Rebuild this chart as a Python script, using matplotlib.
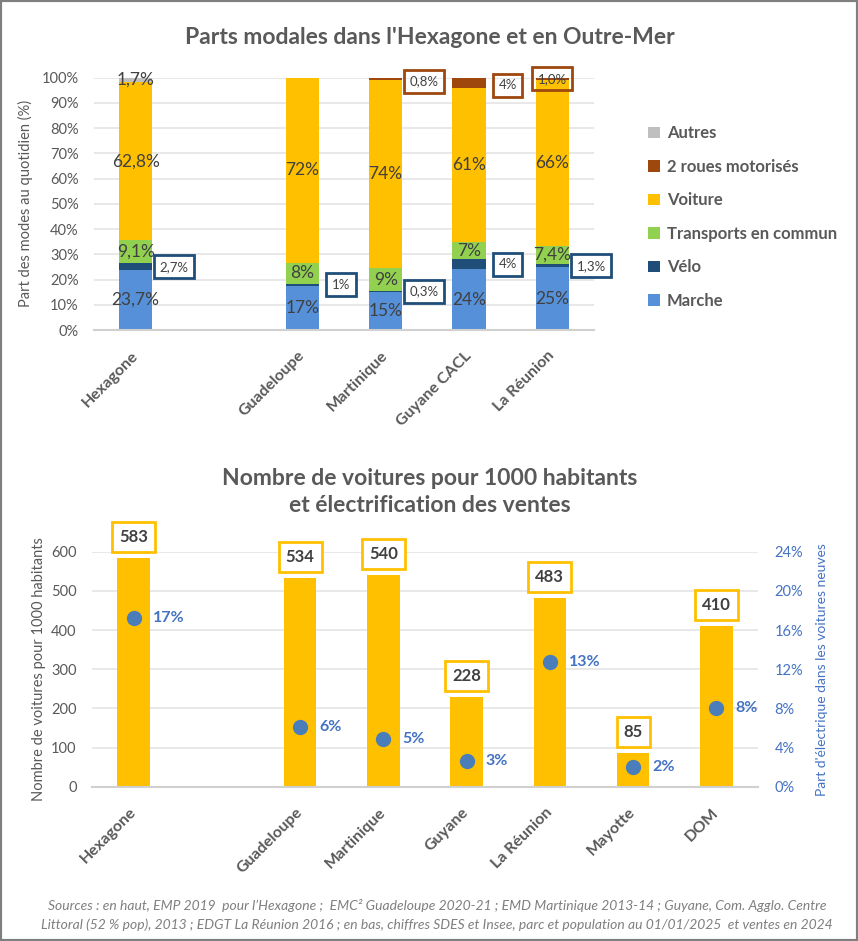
import numpy as np
import matplotlib
matplotlib.use("Agg")
import matplotlib.pyplot as plt
from matplotlib.patches import Rectangle

plt.rcParams['font.family'] = ['Lato', 'DejaVu Sans']

# ------------------------------
# Données : parts modales (haut)
# ------------------------------
territoires = ['Hexagone', '', 'Guadeloupe', 'Martinique', 'Guyane CACL', 'La Réunion']
marche = [23.7, 17, 15, 24, 25]
velo = [2.7, 1, 0.3, 4, 1.3]
transports = [9.1, 8, 9, 7, 7.4]
voiture = [62.8, 72, 74, 61, 66]
deux_roues = [0, 0, 0.8, 4, 1.0]
autres = [1.7, 0, 0, 0, 0]

marche_lbl = ['23,7%', '17%', '15%', '24%', '25%']
velo_lbl = ['2,7%', '1%', '0,3%', '4%', '1,3%']
transports_lbl = ['9,1%', '8%', '9%', '7%', '7,4%']
voiture_lbl = ['62,8%', '72%', '74%', '61%', '66%']
deux_roues_lbl = ['', '', '0,8%', '4%', '1,0%']
autres_lbl = ['1,7%', '', '', '', '']

# ------------------------------
# Données : voitures / 1000 hab. (bas)
# ------------------------------
territoires2 = ['Hexagone', '', 'Guadeloupe', 'Martinique', 'Guyane', 'La Réunion', 'Mayotte', 'DOM']
voitures_1000 = [583, 534, 540, 228, 483, 85, 410]
part_electrique = [17.2, 6.1, 4.9, 2.6, 12.7, 2.0, 8.0]

GRIS_TXT = '#595959'
GRIS_FONCE = '#404040'
GRILLE = '#E4E4E4'
BLEU_AXE = '#4472C4'

fig = plt.figure(figsize=(8.58, 9.41), dpi=100)
W, H = 858, 941


def fig_box(x0, y_top, x1, y_bottom):
    return [x0 / W, 1 - y_bottom / H, (x1 - x0) / W, (y_bottom - y_top) / H]


# ------------------------------
# Graphique du haut (100 % empilé)
# ------------------------------
ax1 = fig.add_axes(fig_box(94, 77.7, 594, 330))
pos = [i for i, t in enumerate(territoires) if t]

series = [
    ('Marche', marche, marche_lbl, '#5590D8'),
    ('Vélo', velo, velo_lbl, '#1F4E79'),
    ('Transports en commun', transports, transports_lbl, '#92D050'),
    ('Voiture', voiture, voiture_lbl, '#FFC000'),
    ('2 roues motorisés', deux_roues, deux_roues_lbl, '#9E480E'),
    ('Autres', autres, autres_lbl, '#BFBFBF'),
]
totaux = np.sum([s[1] for s in series], axis=0)

bottom = np.zeros(len(pos))
handles = []
for nom, vals, lbls, col in series:
    h = np.array(vals) / totaux * 100
    b = ax1.bar(pos, h, 0.4, bottom=bottom, color=col, label=nom, zorder=2)
    handles.append(b)
    for i, x in enumerate(pos):
        if not lbls[i]:
            continue
        mid = bottom[i] + h[i] / 2
        if nom == 'Vélo':
            ax1.annotate(lbls[i], xy=(x + 0.2, mid), xytext=(22, 0), textcoords='offset pixels',
                         ha='center', va='center', fontsize=9.5, color=GRIS_FONCE,
                         bbox=dict(boxstyle='square,pad=0.42', fc='white', ec='#1F4E79', lw=2),
                         annotation_clip=False, zorder=5)
        elif nom == '2 roues motorisés':
            if territoires[x] == 'La Réunion':
                xy, dx = (x, mid), 0
            else:
                xy, dx = (x + 0.2, mid - 1), 22
            ax1.annotate(lbls[i], xy=xy, xytext=(dx, 0), textcoords='offset pixels',
                         ha='center', va='center', fontsize=9.5, color=GRIS_FONCE,
                         bbox=dict(boxstyle='square,pad=0.42', fc='none', ec='#9E480E', lw=2),
                         annotation_clip=False, zorder=5)
        else:
            ax1.text(x, mid, lbls[i], ha='center', va='center', fontsize=12.5,
                     color=GRIS_FONCE, zorder=4)
    bottom += h

ax1.set_xlim(-0.5, len(territoires) - 0.5)
ax1.set_ylim(0, 100)
ax1.set_yticks(range(0, 101, 10))
ax1.set_yticklabels([f"{v}%" for v in range(0, 101, 10)])
ax1.set_xticks(pos)
ax1.set_xticklabels([territoires[p] for p in pos], rotation=45, ha='right', va='center',
                    rotation_mode='anchor', fontweight='bold', fontsize=11.5, color=GRIS_TXT)
ax1.tick_params(axis='x', length=0, pad=17)
ax1.tick_params(axis='y', length=0, pad=11, labelsize=10.5, labelcolor=GRIS_TXT)
ax1.yaxis.grid(True, color=GRILLE, lw=1.2, zorder=0)
ax1.set_axisbelow(True)
for s in ['top', 'right', 'left']:
    ax1.spines[s].set_visible(False)
ax1.spines['bottom'].set_color('#D0D0D0')
ax1.spines['bottom'].set_linewidth(1.5)
ax1.set_ylabel('Part des modes au quotidien (%)', fontsize=10.5, color=GRIS_TXT, labelpad=6)

leg = ax1.legend(handles[::-1], [s[0] for s in series][::-1], loc='upper left',
                 bbox_to_anchor=(640 / W, 1 - 117 / H), bbox_transform=fig.transFigure,
                 frameon=False, handlelength=0.7, handleheight=0.7, handletextpad=0.4,
                 labelspacing=1.05, borderpad=0, prop={'weight': 'bold', 'size': 12})
for t in leg.get_texts():
    t.set_color(GRIS_TXT)

fig.text(430 / W, 1 - 38 / H, "Parts modales dans l'Hexagone et en Outre-Mer",
         ha='center', va='center', fontsize=16.5, fontweight='bold', color=GRIS_TXT)

# ------------------------------
# Graphique du bas (barres + points)
# ------------------------------
ax2 = fig.add_axes(fig_box(92, 551.7, 758, 786.7))
pos2 = [i for i, t in enumerate(territoires2) if t]
ax2.bar(pos2, voitures_1000, 0.39, color='#FFC000', zorder=2)
for x, v in zip(pos2, voitures_1000):
    ax2.annotate(str(v), xy=(x, v), xytext=(0, 21), textcoords='offset pixels',
                 ha='center', va='center', fontsize=12, fontweight='bold', color=GRIS_FONCE,
                 bbox=dict(boxstyle='square,pad=0.42', fc='white', ec='#FFC000', lw=2),
                 annotation_clip=False)
ax2.set_xlim(-0.5, len(territoires2) - 0.5)
ax2.set_ylim(0, 600)
ax2.set_yticks(range(0, 601, 100))
ax2.set_xticks(pos2)
ax2.set_xticklabels([territoires2[p] for p in pos2], rotation=45, ha='right', va='center',
                    rotation_mode='anchor', fontweight='bold', fontsize=11.5, color=GRIS_TXT)
ax2.tick_params(axis='x', length=0, pad=17)
ax2.tick_params(axis='y', length=0, pad=11, labelsize=10.5, labelcolor=GRIS_TXT)
ax2.yaxis.grid(True, color=GRILLE, lw=1.2, zorder=0)
ax2.set_axisbelow(True)
for s in ['top', 'right', 'left']:
    ax2.spines[s].set_visible(False)
ax2.spines['bottom'].set_color('#D0D0D0')
ax2.spines['bottom'].set_linewidth(1.5)
ax2.set_ylabel('Nombre de voitures pour 1000 habitants', fontsize=10.5, color=GRIS_TXT, labelpad=4)

ax3 = ax2.twinx()
ax3.plot(pos2, part_electrique, 'o', ms=10, color='#4A7EBB', zorder=3)
for x, v in zip(pos2, part_electrique):
    ax3.annotate(f"{v:.0f}%", xy=(x, v), xytext=(19, 0), textcoords='offset pixels',
                 ha='left', va='center', fontsize=11.5, fontweight='bold', color=BLEU_AXE)
ax3.set_ylim(0, 24)
ax3.set_yticks(range(0, 25, 4))
ax3.set_yticklabels([f"{v}%" for v in range(0, 25, 4)])
ax3.tick_params(axis='y', length=0, pad=12, labelsize=10.5, labelcolor=BLEU_AXE)
for s in ['top', 'right', 'left', 'bottom']:
    ax3.spines[s].set_visible(False)
ax3.set_ylabel("Part d'électrique dans les voitures neuves", fontsize=10, color=BLEU_AXE,
               labelpad=9)

fig.text(430 / W, 1 - 492 / H, "Nombre de voitures pour 1000 habitants\net électrification des ventes",
         ha='center', va='center', fontsize=16.5, fontweight='bold', color=GRIS_TXT,
         linespacing=1.3)

# ------------------------------
# Sources et cadre
# ------------------------------
fig.text(437 / W, 1 - 906 / H,
         "Sources : en haut, EMP 2019  pour l’Hexagone ;  EMC² Guadeloupe 2020-21 ; EMD Martinique 2013-14 ; "
         "Guyane, Com. Agglo. Centre", ha='center', va='center', fontsize=10, style='italic',
         color='#7F7F7F')
fig.text(437 / W, 1 - 925 / H,
         "Littoral (52 % pop), 2013 ; EDGT La Réunion 2016 ; en bas, chiffres SDES et Insee, "
         "parc et population au 01/01/2025  et ventes en 2024", ha='center', va='center',
         fontsize=10, style='italic', color='#7F7F7F')

fig.patches.append(Rectangle((0, 0), 1, 1, transform=fig.transFigure, fill=False,
                             ec='#7F7F7F', lw=3))

fig.savefig('out.png', dpi=100)
